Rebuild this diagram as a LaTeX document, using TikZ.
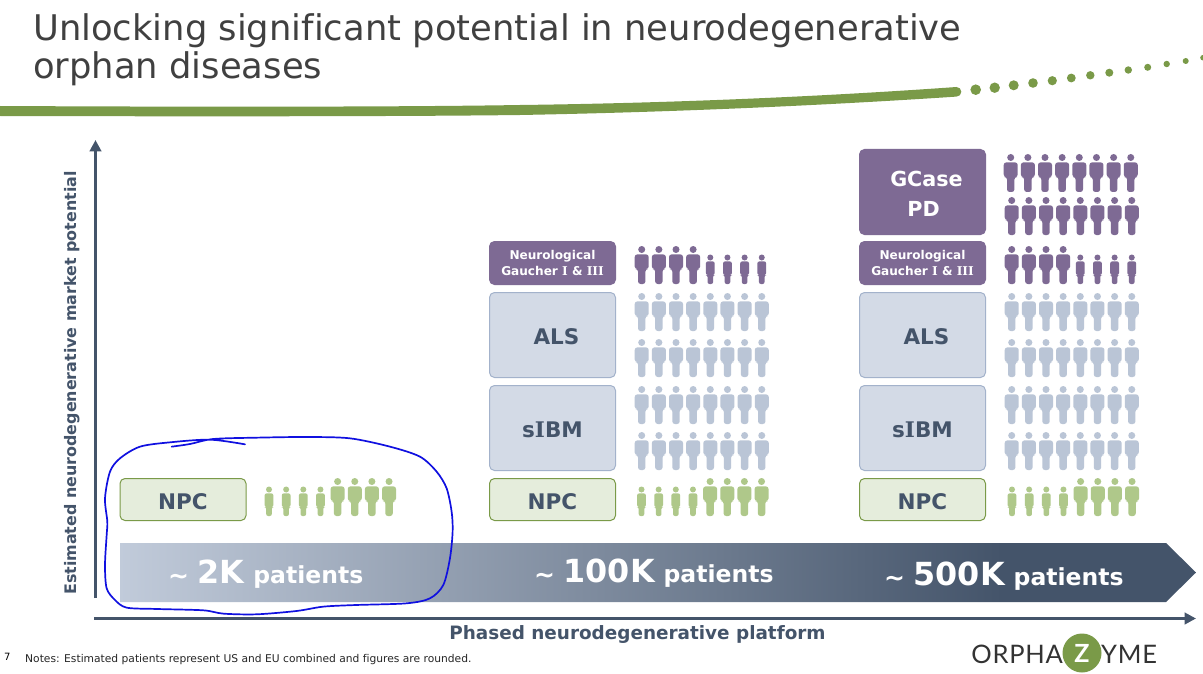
\documentclass[tikz,border=0pt]{standalone}
\usepackage{fontspec}
\setmainfont[Ligatures=NoCommon]{DejaVu Sans}
\newfontfamily\serifb{DejaVu Serif}
\newfontfamily\logofont[LetterSpace=3]{Lato}
\newfontfamily\logoz{Lato}
\usetikzlibrary{arrows.meta}
\definecolor{navy}{HTML}{44546A}
\definecolor{grn}{HTML}{7A9A48}
\definecolor{purp}{HTML}{7E6A94}
\definecolor{pale}{HTML}{BAC5D6}
\definecolor{palebox}{HTML}{D3DAE6}
\definecolor{paleline}{HTML}{A3B2CB}
\definecolor{lgreen}{HTML}{AFC88A}
\definecolor{gbox}{HTML}{E5EDDC}
\definecolor{titlegray}{HTML}{404040}
\definecolor{scrib}{HTML}{1010E0}
\pgfdeclarehorizontalshading{barshade}{100bp}{color(0bp)=(pale!90!white); color(25bp)=(pale!90!white); color(66bp)=(navy); color(75bp)=(navy); color(100bp)=(navy)}
\newcommand{\vI}{{\serifb\bfseries I}}
\newcommand{\barlabel}[2]{{\fontsize{25}{28}\selectfont\raisebox{-1.5pt}{\textasciitilde}}\hspace*{8.5pt}{\fontsize{31.8}{34}\selectfont #1}\hspace*{9pt}{\fontsize{23.5}{26}\selectfont #2}}
\tikzset{
 boxbase/.style={draw,rounded corners=5pt,minimum width=126pt,inner sep=0pt,line width=1pt,align=center,anchor=north west},
 npcbox/.style={boxbase,fill=gbox,draw=grn,minimum height=42pt,text=navy,font=\bfseries\fontsize{21.5}{24}\selectfont},
 palebx/.style={boxbase,fill=palebox,draw=paleline,minimum height=85pt,text=navy,font=\bfseries\fontsize{21.5}{24}\selectfont},
 neuro/.style={boxbase,fill=purp,draw=purp,minimum height=43pt,text=white,font=\bfseries\fontsize{12.1}{16.5}\selectfont},
 gcase/.style={boxbase,fill=purp,draw=purp,minimum height=85pt,text=white,font=\bfseries\fontsize{20.7}{30.5}\selectfont},
 axisline/.style={navy,line width=3.8pt,-{Triangle[length=11.5pt,width=11.5pt]}},
 plabel/.style={text=white,font=\bfseries,anchor=base west,inner sep=0pt},
 titletext/.style={anchor=base west,inner sep=0pt,text=titlegray,font=\fontsize{35.35}{43}\selectfont},
}
% big person: cx, top, colour
\newcommand{\bigp}[3]{%
 \fill[#3] (#1,#2+3.5) circle (3.5);
 \fill[#3,rounded corners=2.6pt] (#1-7,#2+8.4) -- (#1+7,#2+8.4) -- (#1+7,#2+23) -- (#1+3.7,#2+23) -- (#1+3.7,#2+38) -- (#1-3.7,#2+38) -- (#1-3.7,#2+23) -- (#1-7,#2+23) -- cycle;}
% small person: cx, top, colour
\newcommand{\smallp}[3]{%
 \fill[#3] (#1,#2+3) circle (3);
 \fill[#3,rounded corners=2pt] (#1-4.4,#2+6.9) -- (#1+4.4,#2+6.9) -- (#1+4.4,#2+20.5) -- (#1+2.8,#2+20.5) -- (#1+2.8,#2+29.5) -- (#1-2.8,#2+29.5) -- (#1-2.8,#2+20.5) -- (#1-4.4,#2+20.5) -- cycle;}
\newcommand{\bigrow}[3]{\foreach \i in {0,...,7}{\bigp{#1+17.15*\i}{#2}{#3}}}
\newcommand{\mixrow}[3]{\foreach \i in {0,...,3}{\bigp{#1+17.15*\i}{#2}{#3}}\foreach \i in {4,...,7}{\smallp{#1+17.15*\i}{#2+8.5}{#3}}}
\newcommand{\npcrow}[3]{\foreach \i in {0,...,3}{\smallp{#1+17.15*\i}{#2+8.5}{#3}}\foreach \i in {4,...,7}{\bigp{#1+17.15*\i}{#2}{#3}}}
\newcommand{\lowerA}{\rule{0pt}{20pt}}
\newcommand{\lowerB}{\rule{0pt}{19pt}}
\begin{document}
\begin{tikzpicture}[x=1pt,y=-1pt]
\useasboundingbox (0,0) rectangle (1203,674);
\fill[white] (0,0) rectangle (1203,674);
% title
\node[titletext] (title1) at (33,41) {Unlocking significant potential in neurodegenerative};
\node[titletext] (title2) at (33,79) {orphan diseases};
% swoosh
\fill[grn] (0,106) .. controls (200,107) and (400,107) .. (520,105) .. controls (680,103) and (830,96) .. (956.5,87) arc (-90:90:4.8) .. controls (830,105) and (680,112) .. (520,115) .. controls (400,116.5) and (200,116.5) .. (0,116) -- cycle;
\foreach \x/\y/\r in {975.7/89.7/5.3,994.7/87.7/5.2,1013.7/85.3/5,1033/83/4.8,1052.3/80.7/4.6,1071.3/78/4.4,1090.3/75.3/4.2,1109.3/72.7/4,1128.3/70/3.7,1147.7/67.3/3.5,1166.7/64/3.2,1185.7/61/3,1203/57.7/2.8}{\fill[grn] (\x,\y) circle (\r);}
% axes
\coordinate (yfrom) at (95.5,598);
\coordinate (yto) at (95.5,140);
\coordinate (xfrom) at (94,618.5);
\coordinate (xto) at (1196,618.5);
\draw[axisline] (yfrom) -- (yto);
\draw[axisline] (xfrom) -- (xto);
\node[rotate=90,text=navy,font=\bfseries\fontsize{15.9}{18}\selectfont,inner sep=0pt] (ylab) at (72,383) {Estimated neurodegenerative market potential};
\node[text=navy,font=\bfseries\fontsize{18.4}{21}\selectfont,inner sep=0pt] (xlab) at (637.5,634) {Phased neurodegenerative platform};
% big arrow
\path[shading=barshade] (120,543) -- (1166,543) -- (1196,572.5) -- (1166,602) -- (120,602) -- cycle;
\node[plabel] (t1) at (168,583) {\barlabel{2K}{patients}};
\node[plabel] (t2) at (534,582) {\barlabel{100K}{patients}};
\node[plabel] (t3) at (884,585) {\barlabel{500K}{patients}};
% boxes
\node[npcbox] (npc1) at (119.5,478) {\lowerA NPC};
\node[npcbox] (npc2) at (489,478) {\lowerA NPC};
\node[npcbox] (npc3) at (859,478) {\lowerA NPC};
\node[palebx] (sibm2) at (489,385) {\lowerB s\vI BM};
\node[palebx] (sibm3) at (859,385) {\lowerB s\vI BM};
\node[palebx] (als2) at (489,292) {\hspace*{8pt}\lowerB ALS};
\node[palebx] (als3) at (859,292) {\hspace*{8pt}\lowerB ALS};
\node[neuro] (gau2) at (489,241) {Neurological\\Gaucher \vI\ \& \vI\vI\vI};
\node[neuro] (gau3) at (859,241) {Neurological\\Gaucher \vI\ \& \vI\vI\vI};
\node[gcase] (pd) at (859,149) {\hspace*{8pt}\lowerB GCase\\\hspace*{2pt}PD};
% people
\npcrow{269}{478}{lgreen}
\npcrow{641.5}{478}{lgreen}
\npcrow{1012}{478}{lgreen}
\bigrow{641.7}{432}{pale}\bigrow{641.7}{386}{pale}\bigrow{641.7}{339}{pale}\bigrow{641.7}{293}{pale}
\bigrow{1011.7}{432}{pale}\bigrow{1011.7}{386}{pale}\bigrow{1011.7}{339}{pale}\bigrow{1011.7}{293}{pale}
\mixrow{641.7}{246}{purp}\mixrow{1011.7}{246}{purp}
\bigrow{1010.7}{154}{purp}\bigrow{1011.7}{197}{purp}
% scribble
\begin{scope}[shift={(90,425)},x=0.3333pt,y=-0.3333pt]
\draw[scrib,line width=1.7pt,line cap=round,line join=round] plot[smooth,tension=0.5] coordinates{(245,65)(300,57)(370,42)(500,38)(650,36)(780,40)(900,65)(990,95)(1040,140)(1070,190)(1085,260)(1088,320)(1080,400)(1060,480)(1020,520)(950,535)(800,540)(700,545)(620,558)(500,568)(400,566)(340,556)(200,552)(110,548)(75,525)(50,490)(45,420)(50,330)(52,290)(45,220)(60,140)(90,100)(150,65)(240,52)(360,44)(465,58)};
\end{scope}
% footer
\node[anchor=base west,inner sep=0pt,font=\fontsize{10}{12}\selectfont,text=black] (pg) at (4,660) {7};
\node[anchor=base west,inner sep=0pt,font=\fontsize{10.7}{13}\selectfont,text=black!85] (note) at (25,662) {Notes: Estimated patients represent US and EU combined and figures are rounded.};
% logo
\node[circle,fill=grn,minimum size=39pt,inner sep=0pt,text=white,font=\logoz\bfseries\fontsize{25}{30}\selectfont] (zc) at (1082,653) {Z};
\node[anchor=base east,inner sep=0pt,font=\logofont\fontsize{25.5}{30}\selectfont,text=black!80] (l1) at (1063,663) {ORPHA};
\node[anchor=base west,inner sep=0pt,font=\logofont\fontsize{25.5}{30}\selectfont,text=black!80] (l2) at (1101,663) {YME};
\end{tikzpicture}
\end{document}
